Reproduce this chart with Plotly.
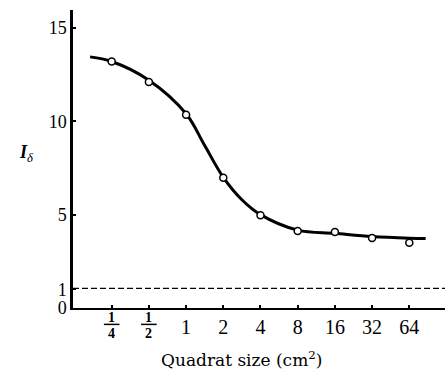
import plotly.graph_objects as go

# Quadrat sizes (cm^2) and their tick labels
sizes = [0.25, 0.5, 1, 2, 4, 8, 16, 32, 64]
size_labels = ["1/4", "1/2", "1", "2", "4", "8", "16", "32", "64"]
# log2 positions of the sizes
size_pos = [-2, -1, 0, 1, 2, 3, 4, 5, 6]

# observed I-delta values (open circles)
i_delta = [13.2, 12.1, 10.35, 6.98, 4.97, 4.13, 4.07, 3.75, 3.5]

# fitted smooth curve
curve_x = [-2.58, -2.0, -1.0, 0.0, 0.5, 1.0, 1.5, 2.0, 3.0, 4.0, 5.0, 6.0, 6.44]
curve_y = [13.45, 13.2, 12.2, 10.4, 8.7, 7.0, 5.8, 5.0, 4.17, 4.0, 3.83, 3.74, 3.72]

# reference line I-delta = 1
ref_x = [-3.04, 6.96]
ref_y = [1.05, 1.05]

y_ticks = [0, 1, 5, 10, 15]

x_title = "Quadrat size (cm<sup>2</sup>)"

serif = "Liberation Serif"

fig = go.Figure()
fig.add_trace(go.Scatter(x=ref_x, y=ref_y, mode="lines",
                         line=dict(color="black", width=1.4, dash="6px,3px"),
                         showlegend=False, hoverinfo="skip"))
fig.add_trace(go.Scatter(x=curve_x, y=curve_y, mode="lines",
                         line=dict(color="black", width=3, shape="spline", smoothing=1.0),
                         showlegend=False, hoverinfo="skip"))
fig.add_trace(go.Scatter(x=size_pos, y=i_delta, mode="markers",
                         marker=dict(symbol="circle", size=7, color="white",
                                     line=dict(color="black", width=1.5)),
                         showlegend=False))

ticktext = [("" if "/" in lab else lab) for lab in size_labels]

annotations = []
shapes = []
for xp, lab in zip(size_pos, size_labels):
    if "/" in lab:
        num, den = lab.split("/")
        annotations.append(dict(x=xp, y=-0.032, xref="x", yref="paper", text="<b>" + num + "</b>",
                                showarrow=False, yanchor="middle",
                                font=dict(family=serif, size=14, color="black")))
        annotations.append(dict(x=xp, y=-0.084, xref="x", yref="paper", text="<b>" + den + "</b>",
                                showarrow=False, yanchor="middle",
                                font=dict(family=serif, size=14, color="black")))
        shapes.append(dict(type="line", xref="x", yref="paper", x0=xp - 0.21, x1=xp + 0.21,
                           y0=-0.055, y1=-0.055, line=dict(color="black", width=1.5)))

# I-delta axis label (pixel position converted to paper coords)
annotations.append(dict(x=(17 - 73) / 372, y=(308 - 153) / 298, xref="paper", yref="paper",
                        text="<i><b>I</b></i><sub><i>δ</i></sub>", showarrow=False,
                        yanchor="middle", font=dict(family=serif, size=18, color="black")))
# x axis title (slightly left of centre, as in the original)
annotations.append(dict(x=(241 - 73) / 372, y=(308 - 359) / 298, xref="paper", yref="paper",
                        text=x_title, showarrow=False, xanchor="center", yanchor="middle",
                        font=dict(family="DejaVu Serif", size=17, color="black")))

fig.update_layout(
    width=445, height=372,
    margin=dict(l=73, r=0, t=10, b=64),
    paper_bgcolor="white", plot_bgcolor="white",
    font=dict(family=serif, size=20, color="black"),
    annotations=annotations, shapes=shapes,
    xaxis=dict(range=[-3.04, 6.96], tickvals=size_pos, ticktext=ticktext,
               showgrid=False, zeroline=False, showline=True, linecolor="black", linewidth=2,
               ticks="inside", ticklen=3, tickwidth=2, tickcolor="black",
               tickfont=dict(family=serif, size=20)),
    yaxis=dict(range=[0, 15.96], tickvals=y_ticks, ticktext=[str(v) for v in y_ticks],
               showgrid=False, zeroline=False, showline=True, linecolor="black", linewidth=2.5,
               ticks="inside", ticklen=3, tickwidth=2, tickcolor="black",
               tickfont=dict(family=serif, size=18)),
)

fig.write_html("out.html")
